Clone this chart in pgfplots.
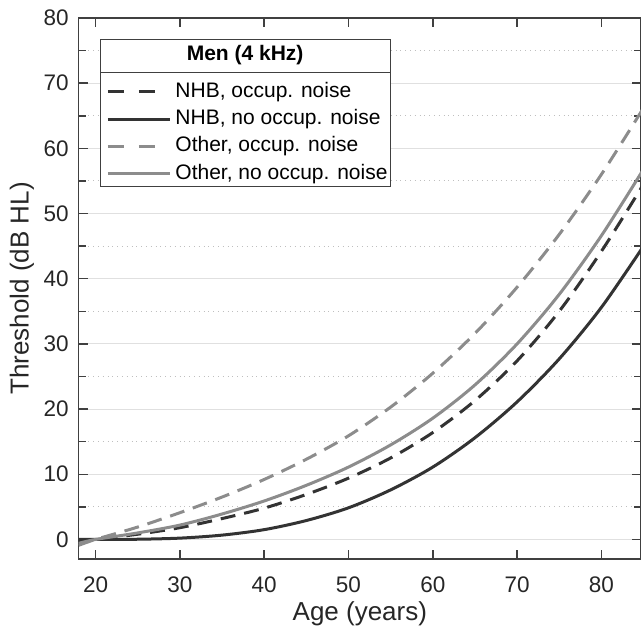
\documentclass[border=0pt]{standalone}
\usepackage{fontspec}
\setmainfont{Liberation Sans}
\usepackage{pgfplots}
\pgfplotsset{compat=1.18}
\definecolor{darkline}{HTML}{333333}
\definecolor{lightline}{HTML}{8C8C8C}
\definecolor{axiscol}{HTML}{404040}

\begin{document}
\begin{tikzpicture}
\begin{axis}[
    scale only axis,
    width=281.15pt, height=270.5pt,
    xmin=18, xmax=84.7, ymin=-3, ymax=80,
    xtick={20,30,...,80}, ytick={0,10,...,80},
    minor ytick={5,15,...,75},
    tick align=inside, tick pos=both,
    ymajorgrids, yminorgrids,
    major grid style={draw=black!12, line width=0.5pt},
    minor grid style={draw=black!25, dotted, line width=0.5pt},
    axis line style={draw=axiscol, line width=0.75pt},
    major tick length=4.5pt, minor tick length=3.5pt,
    tick style={draw=axiscol, line width=0.75pt},
    tick label style={font=\fontsize{11.25}{13}\selectfont, text=black!85},
    /pgf/number format/assume math mode=true,
    xticklabel style={yshift=-5.5pt},
    yticklabel style={xshift=-1.5pt},
    xlabel={Age (years)}, ylabel={Threshold (dB HL)},
    label style={font=\fontsize{13}{15}\selectfont, text=black!85},
    xlabel style={at={(rel axis cs:0.5,-0.102)}, anchor=center},
    ylabel style={at={(rel axis cs:-0.101,0.5)}, anchor=center},
    legend cell align=left,
    legend style={at={(rel axis cs:0.0379,0.900)}, anchor=north west,
        draw=none, fill=none, inner xsep=3pt, inner ysep=4.4pt,
        column sep=2pt, row sep=3.25pt,
        font=\fontsize{10.5}{12}\selectfont,
        nodes={inner sep=0pt, text height=8pt, text depth=2.4pt}},
]

% legend frame with title (drawn before legend entries)
\draw[axiscol, line width=0.5pt, fill=white]
    (rel axis cs:0.0379,0.688) rectangle (rel axis cs:0.554,0.961);
\draw[axiscol, line width=0.5pt]
    (rel axis cs:0.0379,0.900) -- (rel axis cs:0.554,0.900);
\node[font=\fontsize{10.5}{12}\selectfont\bfseries]
    at (rel axis cs:0.296,0.9307) {Men (4 kHz)};

% NHB, occup. noise
\addplot[darkline, line width=1.5pt, dash pattern=on 7.5pt off 4.5pt, smooth,
    legend image code/.code={\draw[darkline, line width=1.5pt, dash pattern=on 8pt off 7.5pt] (0pt,0pt) -- (31pt,0pt);}]
coordinates {(18,-0.4) (20,0) (25,0.8) (30,1.8) (35,3.2) (40,4.8) (45,6.9) (50,9.4)
    (55,12.5) (60,16.4) (65,21.3) (70,27.4) (75,35.0) (80,44.2) (85,54.5)};
\addlegendentry{NHB, occup. noise}

% NHB, no occup. noise
\addplot[darkline, line width=1.5pt, smooth,
    legend image code/.code={\draw[darkline, line width=1.5pt] (0pt,0pt) -- (31pt,0pt);}]
coordinates {(18,0) (20,0) (25,0.03) (30,0.2) (35,0.66) (40,1.5) (45,2.9) (50,4.85)
    (55,7.6) (60,11.1) (65,15.6) (70,21.1) (75,27.7) (80,35.6) (85,45.0)};
\addlegendentry{NHB, no occup. noise}

% Other, occup. noise
\addplot[lightline, line width=1.5pt, dash pattern=on 7.5pt off 4.5pt, smooth,
    legend image code/.code={\draw[lightline, line width=1.5pt, dash pattern=on 8pt off 7.5pt] (0pt,0pt) -- (31pt,0pt);}]
coordinates {(18,-0.9) (20,0) (25,1.9) (30,4.1) (35,6.5) (40,9.2) (45,12.3) (50,15.9)
    (55,20.3) (60,25.5) (65,31.6) (70,38.7) (75,46.8) (80,56.0) (85,66.2)};
\addlegendentry{Other, occup. noise}

% Other, no occup. noise
\addplot[lightline, line width=1.5pt, smooth,
    legend image code/.code={\draw[lightline, line width=1.5pt] (0pt,0pt) -- (31pt,0pt);}]
coordinates {(18,-0.6) (20,0) (25,1.0) (30,2.2) (35,3.9) (40,5.9) (45,8.3) (50,11.1)
    (55,14.5) (60,18.6) (65,23.7) (70,30.0) (75,37.6) (80,46.6) (85,56.8)};
\addlegendentry{Other, no occup. noise}

\coordinate (bbl) at (rel axis cs:-0.14,-0.1368);
\coordinate (btr) at (rel axis cs:1,1.0333);
\end{axis}
\pgfresetboundingbox
\path[use as bounding box] (bbl) rectangle (btr);
\end{tikzpicture}
\end{document}
